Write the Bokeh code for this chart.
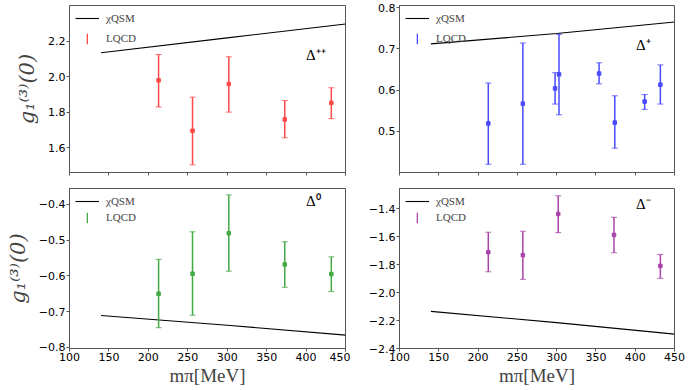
from bokeh.plotting import figure
from bokeh.layouts import column, row
from bokeh.models import FixedTicker, Legend, LegendItem, Range1d, Label
from bokeh.embed import file_html
from bokeh.resources import INLINE

# ---------------- data ----------------
x_ticks = [100, 150, 200, 250, 300, 350, 400, 450]

qsm_x = [140, 300, 450]
qsm_pp = [2.134, 2.218, 2.296]
qsm_p = [0.712, 0.737, 0.765]
qsm_0 = [-0.711, -0.738, -0.7655]
qsm_m = [-2.134, -2.215, -2.297]

pp_x = [213, 256, 302, 373, 432]
pp_y = [1.979, 1.695, 1.958, 1.759, 1.852]
pp_lo = [1.829, 1.503, 1.800, 1.655, 1.763]
pp_hi = [2.124, 1.884, 2.111, 1.865, 1.937]

p_x = [213, 257, 298, 303, 354, 374, 412, 432]
p_y = [0.519, 0.567, 0.604, 0.638, 0.640, 0.521, 0.572, 0.613]
p_lo = [0.420, 0.420, 0.566, 0.540, 0.615, 0.459, 0.553, 0.566]
p_hi = [0.617, 0.714, 0.642, 0.735, 0.666, 0.586, 0.589, 0.661]

z_x = [213, 256, 302, 373, 432]
z_y = [-0.650, -0.594, -0.481, -0.568, -0.595]
z_lo = [-0.745, -0.710, -0.587, -0.632, -0.644]
z_hi = [-0.554, -0.477, -0.374, -0.505, -0.547]

m_x = [213, 257, 302, 373, 432]
m_y = [-1.711, -1.732, -1.437, -1.587, -1.809]
m_lo = [-1.851, -1.905, -1.571, -1.715, -1.898]
m_hi = [-1.568, -1.561, -1.307, -1.461, -1.727]

yt_pp = [1.6, 1.8, 2.0, 2.2]
yt_p = [0.5, 0.6, 0.7, 0.8]
yt_0 = [-0.8, -0.7, -0.6, -0.5, -0.4]
yt_m = [-2.4, -2.2, -2.0, -1.8, -1.6, -1.4]

SERIF = "Liberation Serif"
MATH = "DejaVu Serif"
SANS = "DejaVu Sans"
FRAME = "#555555"
NAN = float("nan")


def fmt(v):
    return ("%.1f" % v).replace("-", "\u2212")


def panel(w, h, yr, yticks, lb, rb, tb, bb, show_x, show_ylab):
    p = figure(width=w, height=h, x_range=Range1d(100, 450), y_range=Range1d(*yr),
               output_backend="svg", toolbar_location=None,
               min_border_left=lb, min_border_right=rb, min_border_top=tb,
               min_border_bottom=bb)
    p.grid.visible = False
    p.outline_line_color = FRAME
    p.outline_line_width = 1
    for ax in (p.xaxis[0], p.yaxis[0]):
        ax.axis_line_color = FRAME
        ax.major_tick_line_color = FRAME
        ax.minor_tick_line_color = None
        ax.major_tick_in = 0
        ax.major_tick_out = 3
        ax.major_label_text_font = SANS
        ax.major_label_text_font_size = "11px"
        ax.major_label_text_color = "black"
        ax.major_label_standoff = 1
    p.xaxis.ticker = FixedTicker(ticks=x_ticks)
    p.yaxis.ticker = FixedTicker(ticks=yticks)
    p.yaxis.major_label_overrides = {v: fmt(v) for v in yticks}
    if show_x:
        p.xaxis.major_label_overrides = {v: str(v) for v in x_ticks}
        p.xaxis.axis_label = "m\u03c0[MeV]"
        p.xaxis.axis_label_text_font = SERIF
        p.xaxis.axis_label_text_font_style = "normal"
        p.xaxis.axis_label_text_font_size = "19px"
        p.xaxis.axis_label_standoff = 1
    else:
        p.xaxis.major_label_overrides = {v: "" for v in x_ticks}
        p.xaxis.major_label_standoff = 0
    if show_ylab:
        p.yaxis.axis_label = "g\u2081\u207d\u00b3\u207e(0)"
        p.yaxis.axis_label_text_font = MATH
        p.yaxis.axis_label_text_font_style = "italic"
        p.yaxis.axis_label_text_font_size = "21px"
        p.yaxis.axis_label_standoff = 6
    return p


def fill(p, frame_h, xs, ys, lo, hi, qy, color, tag, tx, ty):
    ln = p.line(qsm_x, qy, line_color="black", line_width=1.1)
    p.segment(x0=xs, y0=lo, x1=xs, y1=hi, line_color=color, line_width=1.5)
    p.scatter(xs, lo, marker="dash", size=6, line_color=color, line_width=1, line_alpha=0.8)
    p.scatter(xs, hi, marker="dash", size=6, line_color=color, line_width=1, line_alpha=0.8)
    p.scatter(xs, ys, marker="square", size=3.5, color=color)
    # legend proxy for the error bar (nothing drawn in the plot area)
    bar = p.vbar(x=[NAN], top=[NAN], bottom=[NAN], width=1,
                 fill_color=color, line_color=None)
    leg_a = Legend(items=[LegendItem(label="\u03c7QSM", renderers=[ln])],
                   location="top_left", border_line_color=None,
                   background_fill_alpha=0, margin=6, padding=3,
                   glyph_width=24, glyph_height=14, label_height=14,
                   label_standoff=7,
                   label_text_font=SERIF, label_text_font_size="11px")
    leg_b = Legend(items=[LegendItem(label="LQCD", renderers=[bar])],
                   location=(17, frame_h - 39.5), border_line_color=None,
                   background_fill_alpha=0, margin=0, padding=3,
                   glyph_width=2, glyph_height=13, label_height=13,
                   label_standoff=18,
                   label_text_font=SERIF, label_text_font_size="11px")
    p.add_layout(leg_a)
    p.add_layout(leg_b)
    p.add_layout(Label(x=tx, y=ty, text=tag, text_font=SERIF,
                       text_font_size="15px", text_color="black"))


TOP_H, BOT_H = 180, 208
LW, RW = 69 + 276 + 5, 49 + 275 + 11
TOP_FH = TOP_H - 5 - 8
BOT_FH = BOT_H - 8 - 36

p1 = panel(LW, TOP_H, (1.46, 2.40), yt_pp, 69, 5, 5, 8, False, True)
fill(p1, TOP_FH, pp_x, pp_y, pp_lo, pp_hi, qsm_pp, "#ff4a4a", "\u0394\u207a\u207a", 400, 2.075)

p2 = panel(RW, TOP_H, (0.40, 0.805), yt_p, 49, 11, 5, 8, False, False)
fill(p2, TOP_FH, p_x, p_y, p_lo, p_hi, qsm_p, "#4a4aff", "\u0394\u207a", 401, 0.690)

p3 = panel(LW, BOT_H, (-0.803, -0.356), yt_0, 69, 5, 8, 36, True, True)
fill(p3, BOT_FH, z_x, z_y, z_lo, z_hi, qsm_0, "#44aa44", "\u0394\u2070", 400, -0.413)

p4 = panel(RW, BOT_H, (-2.40, -1.255), yt_m, 49, 11, 8, 36, True, False)
fill(p4, BOT_FH, m_x, m_y, m_lo, m_hi, qsm_m, "#aa44aa", "\u0394\u207b", 401, -1.425)

layout = column(row(p1, p2), row(p3, p4))
open("out.html", "w").write(file_html(layout, INLINE))
